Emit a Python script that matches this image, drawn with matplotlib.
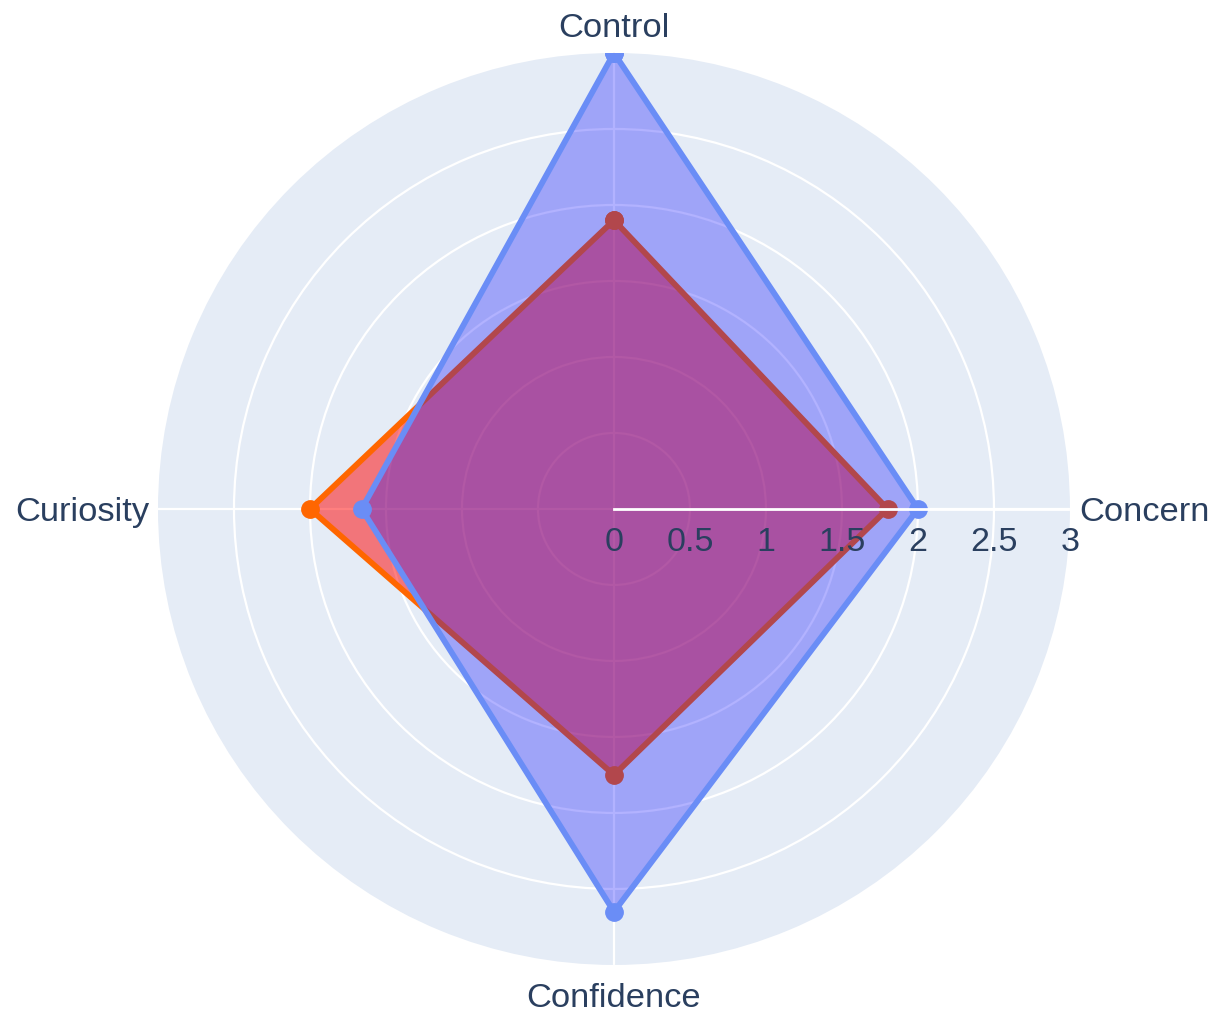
import numpy as np
import matplotlib.pyplot as plt

plt.rcParams['font.family'] = ['Liberation Sans', 'DejaVu Sans']

categories = ["Control", "Concern", "Confidence", "Curiosity"]
blue_vals = [3.0, 2.0, 2.65, 1.66]
orange_vals = [1.9, 1.8, 1.75, 2.0]
rticks = [0, 0.5, 1, 1.5, 2, 2.5, 3]
rtick_labels = ["0", "0.5", "1", "1.5", "2", "2.5", "3"]

txt = '#2a3f5f'
bg = '#E5ECF6'

fig = plt.figure(figsize=(12.17, 10.15), dpi=100)
ax = fig.add_axes([0.1298, 0.0493, 0.7494, 0.8985], projection='polar')
ax.set_theta_offset(np.pi/2)
ax.set_theta_direction(-1)
ax.set_facecolor(bg)
ax.spines['polar'].set_visible(False)
ax.set_ylim(0, 3)

theta = np.linspace(0, 2*np.pi, len(categories), endpoint=False)
ax.set_xticks(theta)
ax.set_xticklabels([])
ax.set_yticks(rticks[1:-1])
ax.set_yticklabels([])
ax.grid(True, color='white', linewidth=1.6)
ax.tick_params(length=0)

def closed(v):
    return np.append(theta, theta[0]), np.append(v, v[0])

# orange series (underneath)
t, r = closed(orange_vals)
ax.fill(t, r, color='#FF0000', alpha=0.5, zorder=3, linewidth=0)
ax.plot(t, r, color='#FF6600', linewidth=4.2, marker='o', markersize=12.5, zorder=4)

# blue series
t, r = closed(blue_vals)
ax.fill(t, r, color='#0000FF', alpha=0.3, zorder=5, linewidth=0)
ax.plot(t, r, color='#6A8DF6', linewidth=4.2, marker='o', markersize=12.5, zorder=6)

# radial axis line on top
ax.plot([np.pi/2, np.pi/2], [0, 3], color='white', linewidth=2, zorder=7)
for v, lab in zip(rticks, rtick_labels):
    ax.annotate(lab, xy=(np.pi/2, v), xytext=(0, -30), textcoords='offset points',
                ha='center', va='baseline', fontsize=24.5, color=txt, zorder=8,
                annotation_clip=False)

# category labels
offsets = [(0, 11.5, 'center'), (7, -8.6, 'left'), (0, -30, 'center'), (-6, -8.6, 'right')]
for th, lab, (dx, dy, ha) in zip(theta, categories, offsets):
    ax.annotate(lab, xy=(th, 3), xytext=(dx, dy), textcoords='offset points',
                ha=ha, va='baseline', fontsize=24.8, color=txt, annotation_clip=False)

fig.savefig('out.png', dpi=100, facecolor='white')
